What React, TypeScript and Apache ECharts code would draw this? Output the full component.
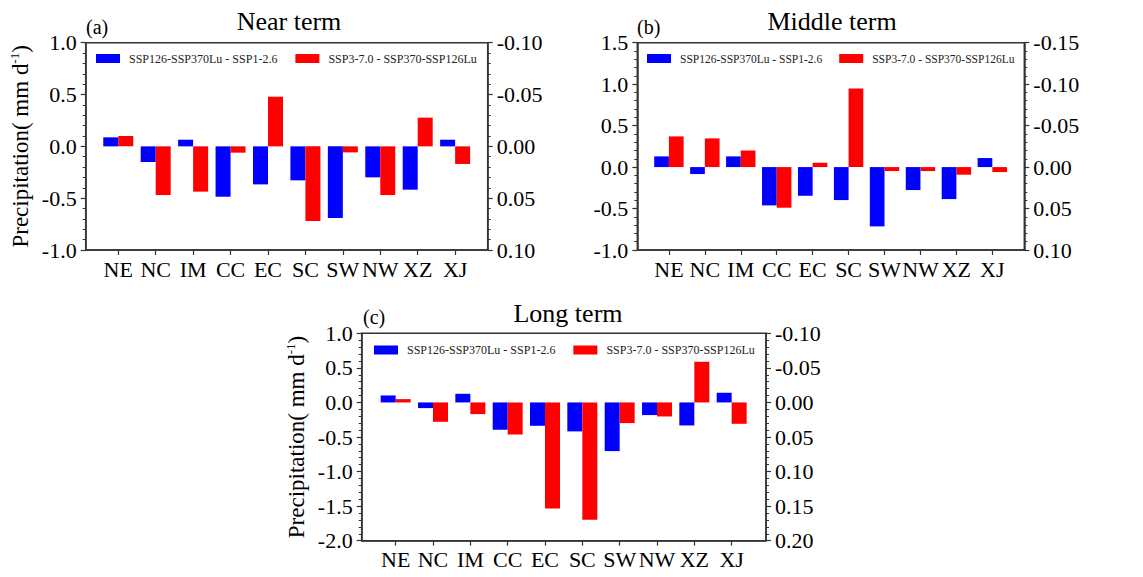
import React, { useEffect, useRef } from "react";
import * as echarts from "echarts";

const regions = ["NE", "NC", "IM", "CC", "EC", "SC", "SW", "NW", "XZ", "XJ"];
const seriesNames = ["SSP126-SSP370Lu - SSP1-2.6", "SSP3-7.0 - SSP370-SSP126Lu"];

const nearLu = [0.087, -0.151, 0.064, -0.486, -0.367, -0.328, -0.691, -0.299, -0.418, 0.064];
const nearGhg = [0.1, -0.47, -0.437, -0.061, 0.479, -0.72, -0.058, -0.47, 0.277, -0.17];
const midLu = [0.129, -0.084, 0.129, -0.462, -0.346, -0.398, -0.715, -0.277, -0.386, 0.109];
const midGhg = [0.37, 0.346, 0.2, -0.49, 0.052, 0.949, -0.048, -0.048, -0.092, -0.06];
const longLu = [0.101, -0.082, 0.125, -0.395, -0.338, -0.419, -0.704, -0.183, -0.333, 0.14];
const longGhg = [0.048, -0.28, -0.169, -0.463, -1.533, -1.697, -0.299, -0.203, 0.588, -0.309];

const nearLeftRange = [-1.0, 1.0, 0.5];
const nearRightRange = [-0.1, 0.1, 0.05];
const midLeftRange = [-1.0, 1.5, 0.5];
const midRightRange = [-0.15, 0.1, 0.05];
const longLeftRange = [-2.0, 1.0, 0.5];
const longRightRange = [-0.1, 0.2, 0.05];

const titles = ["Near term", "Middle term", "Long term"];
const tags = ["(a)", "(b)", "(c)"];

const FONT = "'Liberation Serif', 'Times New Roman', serif";
const AXIS_COLOR = "#333";

const panels = [
  {
    lu: nearLu, ghg: nearGhg, left: nearLeftRange, right: nearRightRange,
    grid: { left: 85.7, top: 42.7, width: 402, height: 207.3 },
    xMin: -0.87, xMax: 9.87, barWidth: 15, yName: true,
    legend: { left: 96, top: 51.5, fontSize: 12, itemGap: 18 },
    titleX: 289, titleY: 21.5, tagX: 86, tagY: 26.5,
  },
  {
    lu: midLu, ghg: midGhg, left: midLeftRange, right: midRightRange,
    grid: { left: 637.3, top: 42.7, width: 387, height: 207.3 },
    xMin: -0.88, xMax: 9.89, barWidth: 14.7, yName: false,
    legend: { left: 647, top: 51.5, fontSize: 11.5, itemGap: 17 },
    titleX: 832, titleY: 21.5, tagX: 637, tagY: 26.5,
  },
  {
    lu: longLu, ghg: longGhg, left: longLeftRange, right: longRightRange,
    grid: { left: 361.7, top: 333.3, width: 404.3, height: 207.4 },
    xMin: -0.91, xMax: 9.92, barWidth: 15, yName: true,
    legend: { left: 374, top: 343, fontSize: 12, itemGap: 18 },
    titleX: 568, titleY: 313.5, tagX: 363, tagY: 316.5,
  },
];

function buildOption() {
  const grid: any[] = [];
  const xAxis: any[] = [];
  const yAxis: any[] = [];
  const series: any[] = [];
  const legend: any[] = [];
  const graphic: any[] = [];
  const idx = regions.map((_, i) => i);

  panels.forEach((p, k) => {
    grid.push({
      ...p.grid,
      show: true,
      borderColor: AXIS_COLOR,
      borderWidth: 1.5,
      backgroundColor: "transparent",
      containLabel: false,
    });
    xAxis.push({
      type: "value",
      gridIndex: k,
      min: p.xMin,
      max: p.xMax,
      axisLine: { show: true, onZero: false, lineStyle: { color: AXIS_COLOR, width: 1.5 } },
      axisTick: { show: true, customValues: idx, length: 5, lineStyle: { color: AXIS_COLOR, width: 1.2 } },
      axisLabel: {
        customValues: idx,
        formatter: (v: number) => regions[Math.round(v)] ?? "",
        fontSize: 22,
        fontFamily: FONT,
        color: "#000",
        margin: 8,
      },
      splitLine: { show: false },
      minorTick: { show: false },
    });
    const leftAxis: any = {
      type: "value",
      gridIndex: k,
      position: "left",
      min: p.left[0],
      max: p.left[1],
      interval: p.left[2],
      axisLine: { show: true, onZero: false, lineStyle: { color: AXIS_COLOR, width: 1.5 } },
      axisTick: { show: true, length: 5, lineStyle: { color: AXIS_COLOR, width: 1.2 } },
      minorTick: { show: true, splitNumber: 5, length: 3, lineStyle: { color: AXIS_COLOR, width: 1 } },
      axisLabel: {
        formatter: (v: number) => v.toFixed(1),
        fontSize: 22,
        fontFamily: FONT,
        color: "#000",
        margin: 9,
      },
      splitLine: { show: false },
    };
    if (p.yName) {
      leftAxis.name = "{a|Precipitation( mm d}{b|-1}{a|)}";
      leftAxis.nameLocation = "middle";
      leftAxis.nameGap = 52;
      leftAxis.nameTextStyle = {
        rich: {
          a: { fontSize: 23, fontFamily: FONT, color: "#000", lineHeight: 26 },
          b: { fontSize: 13, fontFamily: FONT, color: "#000", verticalAlign: "top", lineHeight: 26 },
        },
      };
    }
    yAxis.push(leftAxis);
    yAxis.push({
      type: "value",
      gridIndex: k,
      position: "right",
      inverse: true,
      min: p.right[0],
      max: p.right[1],
      interval: p.right[2],
      axisLine: { show: true, onZero: false, lineStyle: { color: AXIS_COLOR, width: 1.5 } },
      axisTick: { show: true, length: 5, lineStyle: { color: AXIS_COLOR, width: 1.2 } },
      minorTick: { show: true, splitNumber: 5, length: 3, lineStyle: { color: AXIS_COLOR, width: 1 } },
      axisLabel: {
        formatter: (v: number) => v.toFixed(2),
        fontSize: 22,
        fontFamily: FONT,
        color: "#000",
        margin: 9,
      },
      splitLine: { show: false },
    });
    series.push({
      type: "bar",
      name: seriesNames[0],
      xAxisIndex: k,
      yAxisIndex: 2 * k,
      data: p.lu.map((v, i) => [i, v]),
      barWidth: p.barWidth,
      barGap: "0%",
      itemStyle: { color: "#0000ff" },
    });
    series.push({
      type: "bar",
      name: seriesNames[1],
      xAxisIndex: k,
      yAxisIndex: 2 * k,
      data: p.ghg.map((v, i) => [i, v]),
      barWidth: p.barWidth,
      barGap: "0%",
      itemStyle: { color: "#ff0000" },
    });
    legend.push({
      left: p.legend.left,
      top: p.legend.top,
      orient: "horizontal",
      padding: 0,
      itemWidth: 24,
      itemHeight: 9,
      itemGap: p.legend.itemGap,
      icon: "rect",
      data: seriesNames,
      selectedMode: false,
      textStyle: {
        fontSize: p.legend.fontSize,
        fontFamily: FONT,
        color: "#222",
        lineHeight: 14,
        padding: [0, 0, 0, 4],
      },
    });
    graphic.push({
      type: "text",
      x: p.titleX,
      y: p.titleY,
      style: {
        text: titles[k],
        fontSize: 26,
        fontFamily: FONT,
        fill: "#000",
        align: "center",
        verticalAlign: "middle",
      },
    });
    graphic.push({
      type: "text",
      x: p.tagX,
      y: p.tagY,
      style: {
        text: tags[k],
        fontSize: 20,
        fontFamily: FONT,
        fill: "#000",
        align: "left",
        verticalAlign: "middle",
      },
    });
  });

  return {
    animation: false,
    backgroundColor: "#fff",
    grid,
    xAxis,
    yAxis,
    series,
    legend,
    graphic,
  };
}

export default function App() {
  const ref = useRef<HTMLDivElement>(null);
  useEffect(() => {
    document.body.style.margin = "0";
    if (!ref.current) return;
    const chart = echarts.init(ref.current, undefined, { renderer: "svg" });
    chart.setOption(buildOption() as any);
    return () => chart.dispose();
  }, []);
  return <div ref={ref} style={{ width: 1143, height: 577 }} />;
}
